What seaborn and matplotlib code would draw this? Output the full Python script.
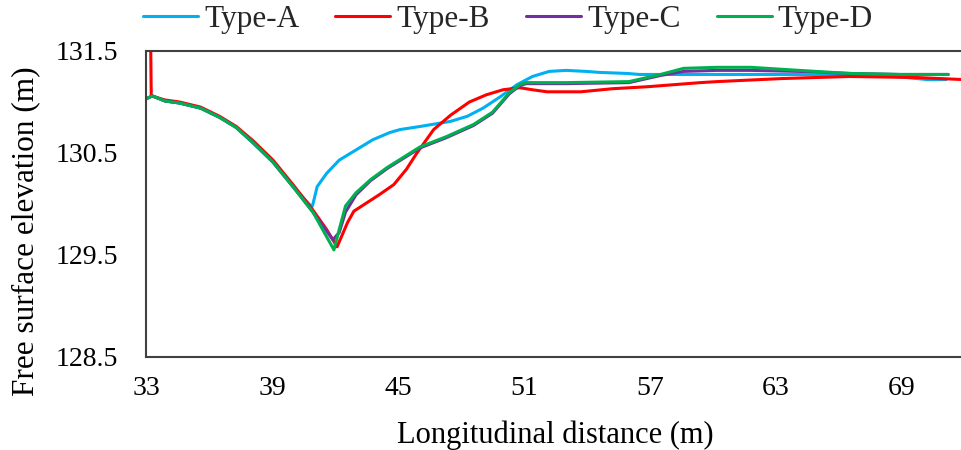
import numpy as np
import pandas as pd
import matplotlib
matplotlib.use("Agg")
import matplotlib.pyplot as plt
import seaborn as sns

# ---- data ----
A_x = [33.0, 33.3, 33.9, 34.6, 35.6, 36.5, 37.3, 38.1, 39.05, 40.0, 40.9, 40.95, 41.15, 41.6, 42.2, 43.0,
       43.8, 44.6, 45.1, 46.05, 47.5, 48.3, 49.05, 49.86, 50.67, 51.4, 52.2, 53.0, 53.95, 54.6, 55.9,
       56.5, 57.8, 59.4, 62.0, 64.0, 66.0, 68.0, 69.2, 70.2, 71.1]
A_y = [131.03, 131.06, 131.01, 130.99, 130.94, 130.85, 130.75, 130.6, 130.41, 130.17, 129.97, 130.0, 130.17,
       130.3, 130.43, 130.53, 130.63, 130.7, 130.73, 130.76, 130.81, 130.86, 130.94, 131.05, 131.17, 131.25,
       131.3, 131.31, 131.3, 131.29, 131.28, 131.27, 131.27, 131.27, 131.27, 131.27, 131.26, 131.26, 131.24,
       131.22, 131.22]

B_x = [33.2, 33.25, 33.9, 34.6, 35.6, 36.5, 37.3, 38.1, 39.05, 40.0, 40.95, 41.6, 42.1, 42.6, 42.9, 43.5,
       44.1, 44.8, 45.4, 45.9, 46.7, 47.5, 48.4, 49.2, 50.0, 50.8, 51.4, 52.1, 53.7, 55.2, 56.9, 59.4,
       60.2, 63.3, 66.5, 69.7, 71.9]
B_y = [132.0, 131.06, 131.02, 131.0, 130.95, 130.86, 130.76, 130.62, 130.43, 130.19, 129.94, 129.75, 129.58,
       129.82, 129.93, 130.01, 130.09, 130.19, 130.34, 130.5, 130.73, 130.87, 131.0, 131.07, 131.12, 131.14,
       131.12, 131.1, 131.1, 131.13, 131.15, 131.19, 131.2, 131.23, 131.25, 131.24, 131.22]

C_x = [33.0, 33.3, 33.9, 34.6, 35.6, 36.5, 37.3, 38.1, 39.05, 40.0, 40.95, 41.9, 42.2, 42.5, 43.0, 43.7,
       44.5, 45.2, 46.05, 47.3, 48.6, 49.5, 50.3, 50.8, 51.1, 53.0, 56.0, 57.5, 58.6, 60.2, 61.8, 64.1,
       66.5, 68.9, 71.2]
C_y = [131.03, 131.06, 131.01, 130.99, 130.94, 130.85, 130.75, 130.6, 130.41, 130.17, 129.92, 129.65, 129.72,
       129.92, 130.09, 130.23, 130.35, 130.44, 130.55, 130.65, 130.77, 130.89, 131.08, 131.16, 131.18, 131.18,
       131.19, 131.26, 131.3, 131.31, 131.31, 131.3, 131.28, 131.27, 131.27]

D_x = [33.0, 33.3, 33.9, 34.6, 35.6, 36.5, 37.3, 38.1, 39.05, 40.0, 40.95, 41.95, 42.2, 42.5, 43.0, 43.7,
       44.5, 45.2, 46.05, 47.3, 48.6, 49.5, 50.3, 50.8, 51.1, 53.0, 56.0, 57.5, 58.6, 60.2, 61.8, 64.1,
       66.5, 68.9, 71.2]
D_y = [131.03, 131.06, 131.01, 130.99, 130.94, 130.85, 130.75, 130.6, 130.41, 130.17, 129.92, 129.55, 129.75,
       129.98, 130.11, 130.24, 130.36, 130.45, 130.56, 130.66, 130.78, 130.9, 131.09, 131.17, 131.19, 131.19,
       131.2, 131.27, 131.33, 131.34, 131.34, 131.31, 131.28, 131.27, 131.27]

series_names = ["Type-A", "Type-B", "Type-C", "Type-D"]
x_ticks = [33, 39, 45, 51, 57, 63, 69]
y_ticks = [128.5, 129.5, 130.5, 131.5]

frames = []
for name, xs, ys in zip(series_names, [A_x, B_x, C_x, D_x], [A_y, B_y, C_y, D_y]):
    frames.append(pd.DataFrame({"x": xs, "y": ys, "type": name}))
df = pd.concat(frames, ignore_index=True)

sns.set_theme(style="white")
plt.rcParams["font.family"] = ["Liberation Serif", "DejaVu Serif"]

palette = {"Type-A": "#00B0F0", "Type-B": "#FF0000", "Type-C": "#7030A0", "Type-D": "#00B050"}

fig = plt.figure(figsize=(9.62, 4.5), dpi=100)
ax = fig.add_axes([146 / 962, 1 - 357 / 450, (965 - 146) / 962, (357 - 51) / 450])

sns.lineplot(data=df, x="x", y="y", hue="type", palette=palette, sort=False,
             estimator=None, linewidth=2.2, ax=ax, legend=True)

ax.set_xlim(33, 72)
ax.set_ylim(128.5, 131.5)
ax.set_xticks(x_ticks)
ax.set_xticklabels([str(t) for t in x_ticks])
ax.set_yticks(y_ticks)
ax.set_yticklabels([f"{t:.1f}" for t in y_ticks])
ax.tick_params(axis="both", length=0, labelsize=20, colors="black")
ax.tick_params(axis="x", pad=14)
ax.tick_params(axis="y", pad=20)
for s in ax.spines.values():
    s.set_color("#404040")
    s.set_linewidth(1.5)
ax.spines["right"].set_visible(False)
ax.grid(False)
ax.set_xlabel("")
ax.set_ylabel("")

fig.text(555 / 962, 1 - 435 / 450, "Longitudinal distance (m)", fontsize=22,
         ha="center", va="center", color="black")
fig.text(26 / 962, 1 - 231 / 450, "Free surface elevation (m)", fontsize=22.5,
         ha="center", va="center", rotation=90, color="black")

handles, labels = ax.get_legend_handles_labels()
ax.get_legend().remove()
fig.legend(handles, labels, loc="center left", bbox_to_anchor=(143 / 962, 1 - 19 / 450), ncol=4,
           frameon=False, fontsize=22.5, handlelength=1.76, handletextpad=0.2, columnspacing=1.15,
           borderpad=0, borderaxespad=0)

fig.savefig("out.png", dpi=100)
